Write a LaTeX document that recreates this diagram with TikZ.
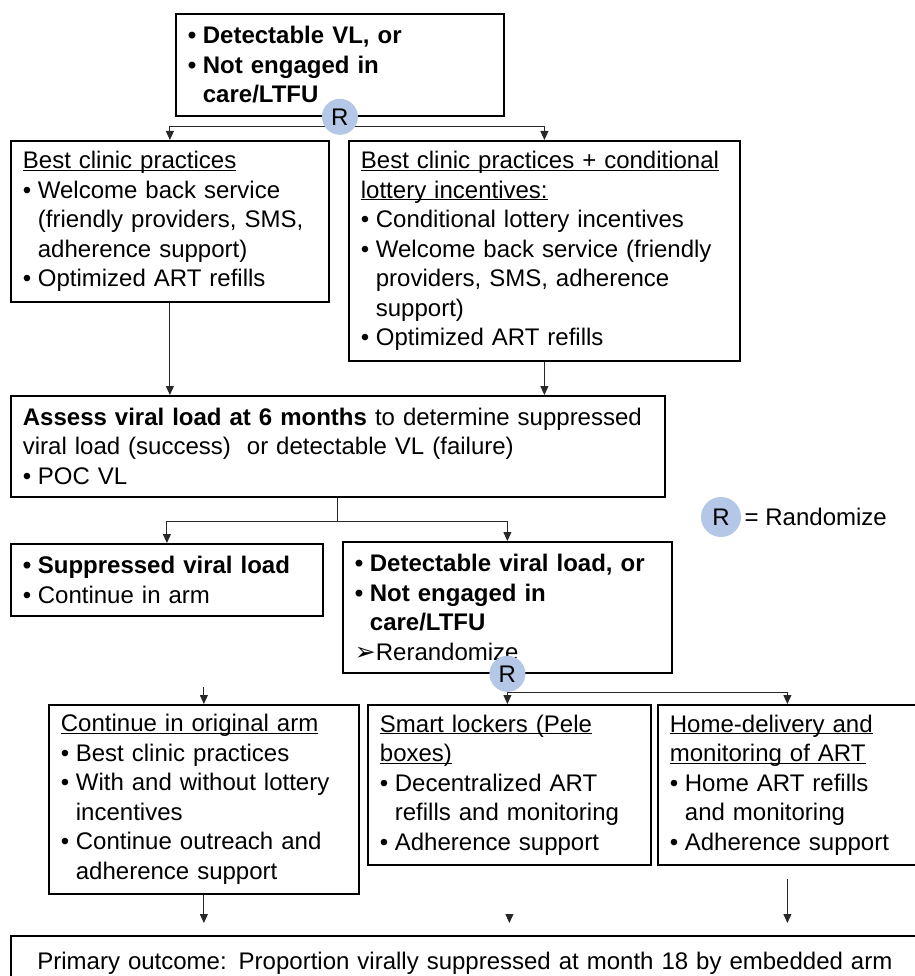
\documentclass[tikz,border=0pt]{standalone}
\usepackage{fontspec}
\setmainfont{Liberation Sans}
\newfontfamily\dingfont{DejaVu Sans}
\usetikzlibrary{arrows.meta,backgrounds}
\definecolor{rblue}{RGB}{180,199,231}
\definecolor{lineg}{RGB}{40,40,40}
\newcommand{\bul}{\makebox[15pt][l]{\textbullet}}
\newcommand{\ind}{\hspace*{15pt}}
\newcommand{\ul}[1]{\underline{\raisebox{0pt}[\height][0pt]{#1}}}
\begin{document}
\begin{tikzpicture}[x=1pt, y=-1pt, font=\fontsize{24}{29.5}\selectfont, >={Triangle[length=9pt,width=8pt]},
    box/.style={draw, line width=1.8pt, anchor=north west, align=left, inner xsep=12pt, inner ysep=0pt},
    rnd/.style={circle, fill=rblue, inner sep=0pt, minimum size=36pt},
    conn/.style={->, line width=0.9pt, lineg}]
\useasboundingbox (0,0) rectangle (914,976);
\node[box, text width=304pt, minimum height=102pt] (top) at (175,13)
    {\textbf{\bul Detectable VL, or}\\ \textbf{\bul Not engaged in}\\ \textbf{\ind care/LTFU}};
\node[box, text width=294pt, minimum height=161pt] (best) at (10,140)
    {\ul{Best clinic practices}\\ \bul Welcome back service\\ \ind (friendly providers, SMS,\\ \ind adherence support)\\ \bul Optimized ART refills};
\node[box, text width=367pt, minimum height=220pt] (combo) at (348,140)
    {\ul{Best clinic practices + conditional}\\ \ul{lottery incentives:}\\ \bul Conditional lottery incentives\\ \bul Welcome back service (friendly\\ \ind providers, SMS, adherence\\ \ind support)\\ \bul Optimized ART refills};
\node[box, text width=630pt, minimum height=101pt] (assess) at (10,395)
    {\textbf{Assess viral load at 6 months} to determine suppressed\\ viral load (success)\ \ or detectable VL (failure)\\ \bul POC VL};
\node[box, text width=288pt, minimum height=72pt] (supp) at (10,543)
    {\textbf{\bul Suppressed viral load}\\ \bul Continue in arm};
\node[box, text width=305pt, minimum height=131pt] (detect) at (342,541)
    {\textbf{\bul Detectable viral load, or}\\ \textbf{\bul Not engaged in}\\ \textbf{\ind care/LTFU}\\ {\dingfont\fontsize{25}{25}\selectfont ➢}Rerandomize};
\node[box, text width=286pt, minimum height=189pt] (cont) at (48,704)
    {\ul{Continue in original arm}\\ \bul Best clinic practices\\ \bul With and without lottery\\ \ind incentives\\ \bul Continue outreach and\\ \ind adherence support};
\node[box, text width=259pt, minimum height=160pt] (smart) at (367,704)
    {\ul{Smart lockers (Pele}\\ \ul{boxes)}\\ \bul Decentralized ART\\ \ind refills and monitoring\\ \bul Adherence support};
\node[box, text width=235pt, minimum height=160pt] (home) at (657,704)
    {\ul{Home-delivery and}\\ \ul{monitoring of ART}\\ \bul Home ART refills\\ \ind and monitoring\\ \bul Adherence support};
\node[box, align=center, text width=884pt, minimum height=55pt] (prim) at (10,935)
    {Primary outcome: Proportion virally suppressed at month 18 by embedded arm};
\node[rnd] (r1) at (top.south) {R};
\node[rnd] (r2) at (detect.south) {R};
\node[rnd, minimum size=40pt] (rleg) at (721,517) {R};
\node[anchor=west] (legtxt) at (rleg.east) {= Randomize};
\coordinate (j1) at ([yshift=-10pt]r1.center);
\coordinate (j2) at ([yshift=-24pt]assess.south);
\coordinate (c0) at ([yshift=17pt]cont.north);
\coordinate (b1) at (cont.south |- prim.north);
\coordinate (b2) at (smart.south |- prim.north);
\coordinate (b3) at (home.south |- prim.north);
\begin{pgfonlayer}{background}
\draw[conn] (j1) -| (best.north);
\draw[conn] (j1) -| (combo.north);
\draw[conn] (r2.south) -| (home.north);
\draw[conn] (r2.south) -- (r2.south |- smart.north);
\end{pgfonlayer}
\draw[conn] (best.south) -- (best.south |- assess.north);
\draw[conn] (combo.south) -- (combo.south |- assess.north);
\draw[line width=0.9pt, lineg] (assess.south) -- (j2);
\draw[conn] (j2) -| (supp.north);
\draw[conn] (j2) -| (detect.north);
\draw[conn] (c0) -- (cont.north);
\draw[conn] (cont.south) -- ([yshift=12pt]b1);
\draw[conn] ([yshift=20pt]b2) -- ([yshift=12pt]b2);
\draw[conn] ([yshift=-13pt]home.south) -- ([yshift=12pt]b3);
\end{tikzpicture}
\end{document}
